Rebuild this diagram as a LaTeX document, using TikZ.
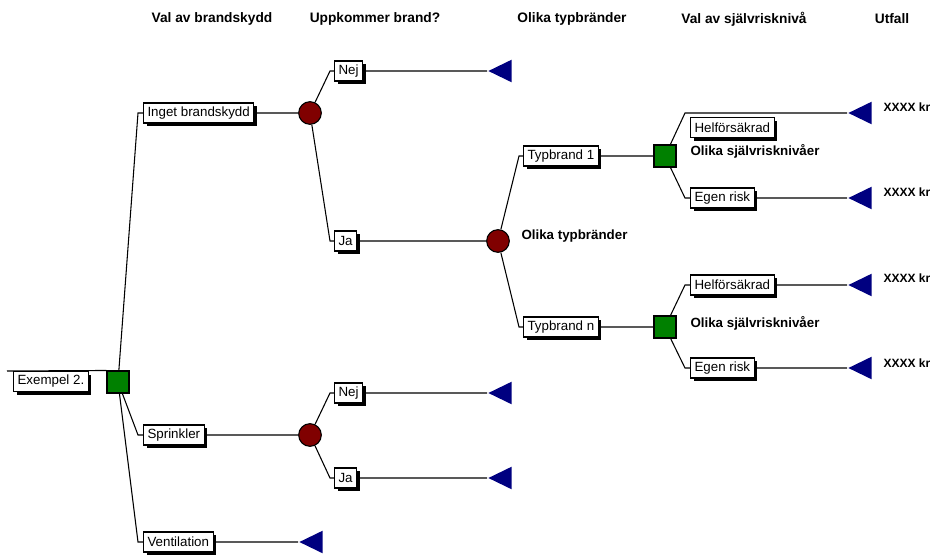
\documentclass[tikz,border=0pt]{standalone}
\usepackage{fontspec}
\setmainfont{Liberation Sans}
\usetikzlibrary{shapes.geometric,shadows}
\definecolor{chanceRed}{RGB}{128,0,0}
\definecolor{decGreen}{RGB}{0,128,0}
\definecolor{endBlue}{RGB}{0,0,128}
\tikzset{
	lbl/.style={draw, fill=white, font=\fontsize{10}{12}\selectfont, inner xsep=3pt, inner ysep=1pt,
		minimum height=15pt, drop shadow={shadow xshift=2.3pt, shadow yshift=-2.3pt, fill=black, opacity=1}},
	dec/.style={draw, fill=decGreen, minimum size=16.5pt, inner sep=0pt},
	chance/.style={circle, draw, fill=chanceRed, minimum size=17pt, inner sep=0pt},
	term/.style={isosceles triangle, isosceles triangle stretches, shape border rotate=180, fill=endBlue,
		minimum width=17pt, minimum height=17.5pt, inner sep=0pt, anchor=apex},
	head/.style={font=\bfseries\fontsize{10.3}{12}\selectfont},
	note/.style={font=\bfseries\fontsize{10}{12}\selectfont, anchor=west, inner sep=0pt},
	cost/.style={font=\bfseries\fontsize{9}{11}\selectfont, anchor=west, inner sep=0pt}
}
\begin{document}
\begin{tikzpicture}[x=0.75pt, y=-0.75pt, line width=0.8pt]
	\useasboundingbox (0,0) rectangle (936,554);
	% rubriker
	\node[head] (h1) at (212,19) {Val av brandskydd};
	\node[head] (h2) at (375,19) {Uppkommer brand?};
	\node[head] (h3) at (572,19) {Olika typbränder};
	\node[head] (h4) at (744,19) {Val av självrisknivå};
	\node[head] (h5) at (892,19) {Utfall};
	
	% rot
	\coordinate (start) at (7,371);
	\node[lbl, anchor=north west] (ex) at (13,371) {Exempel 2.};
	\node[dec] (d0) at (118,382) {};
	\draw (start) -- (d0.north west);
	
	% val av brandskydd
	\coordinate (bInget) at (138,113);
	\coordinate (bSpr) at (138,435);
	\coordinate (bVent) at (138,542);
	\node[lbl, anchor=west] (inget) at (143,113) {Inget brandskydd};
	\node[lbl, anchor=west] (spr) at (143,435) {Sprinkler};
	\node[lbl, anchor=west] (vent) at (143,542) {Ventilation};
	\node[chance] (c1) at (310,113) {};
	\node[chance] (c2) at (310,435) {};
	\node[term] (e1) at (298,542) {};
	\draw (d0) -- (bInget) -- (inget) (inget) -- (c1);
	\draw (d0) -- (bSpr) -- (spr) (spr) -- (c2);
	\draw (d0) -- (bVent) -- (vent) (vent) -- (e1);
	
	% uppkommer brand?
	\coordinate (bNej1) at (330,71);
	\coordinate (bJa1) at (330,241);
	\coordinate (bNej2) at (330,393);
	\coordinate (bJa2) at (330,478);
	\node[lbl, anchor=west] (nej1) at (334,71) {Nej};
	\node[lbl, anchor=west] (ja1) at (334,241) {Ja};
	\node[lbl, anchor=west] (nej2) at (334,393) {Nej};
	\node[lbl, anchor=west] (ja2) at (334,478) {Ja};
	\node[term] (e2) at (487,71) {};
	\node[chance] (c3) at (498,241) {};
	\node[term] (e3) at (487,393) {};
	\node[term] (e4) at (487,478) {};
	\draw (c1) -- (bNej1) -- (nej1) (nej1) -- (e2);
	\draw (c1) -- (bJa1) -- (ja1) (ja1) -- (c3);
	\draw (c2) -- (bNej2) -- (nej2) (nej2) -- (e3);
	\draw (c2) -- (bJa2) -- (ja2) (ja2) -- (e4);
	\node[note] (n1) at (521,236) {Olika typbränder};
	
	% olika typbränder
	\coordinate (bTyp1) at (519,156);
	\coordinate (bTypn) at (519,327);
	\node[lbl, anchor=west] (typ1) at (523,156) {Typbrand 1};
	\node[lbl, anchor=west] (typn) at (523,327) {Typbrand n};
	\node[dec] (d1) at (665,156) {};
	\node[dec] (d2) at (665,327) {};
	\draw (c3) -- (bTyp1) -- (typ1) (typ1) -- (d1);
	\draw (c3) -- (bTypn) -- (typn) (typn) -- (d2);
	\node[note] (n2) at (690,151) {Olika självrisknivåer};
	\node[note] (n3) at (690,323) {Olika självrisknivåer};
	
	% val av självrisknivå
	\coordinate (bHel1) at (685,113);
	\coordinate (bEgen1) at (685,198);
	\coordinate (bHel2) at (685,285);
	\coordinate (bEgen2) at (685,368);
	\node[lbl, anchor=north west] (hel1) at (690,117) {Helförsäkrad};
	\node[lbl, anchor=west] (egen1) at (690,198) {Egen risk};
	\node[lbl, anchor=west] (hel2) at (690,285) {Helförsäkrad};
	\node[lbl, anchor=west] (egen2) at (690,368) {Egen risk};
	\node[term] (e5) at (847,113) {};
	\node[term] (e6) at (847,198) {};
	\node[term] (e7) at (847,285) {};
	\node[term] (e8) at (847,368) {};
	\draw (d1) -- (bHel1) -- (e5);
	\draw (d1) -- (bEgen1) -- (egen1) (egen1) -- (e6);
	\draw (d2) -- (bHel2) -- (hel2) (hel2) -- (e7);
	\draw (d2) -- (bEgen2) -- (egen2) (egen2) -- (e8);
	
	% utfall
	\node[cost] (u1) at (883,107) {XXXX kr};
	\node[cost] (u2) at (883,192) {XXXX kr};
	\node[cost] (u3) at (883,278) {XXXX kr};
	\node[cost] (u4) at (883,363) {XXXX kr};
\end{tikzpicture}
\end{document}
